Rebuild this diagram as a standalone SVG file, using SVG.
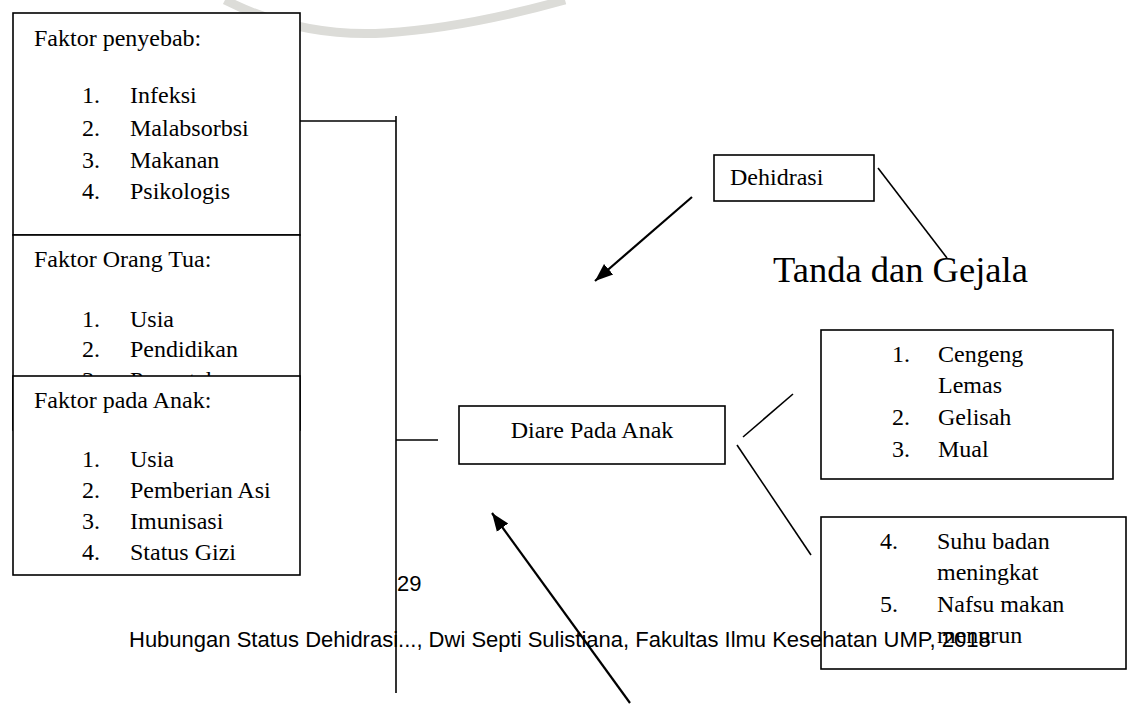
<svg xmlns="http://www.w3.org/2000/svg" width="1129" height="705" viewBox="0 0 1129 705">
<style>
.box{fill:#fff;stroke:#000;stroke-width:1.6}
.t{font-family:"Liberation Serif","Times New Roman",serif;font-size:24px;fill:#000}
.big{font-family:"Liberation Serif","Times New Roman",serif;font-size:36.5px;fill:#000}
.foot{font-family:"Liberation Sans",Arial,sans-serif;font-size:22px;fill:#000}
.ln{stroke:#000;stroke-width:1.6;fill:none}
.ar{stroke:#000;stroke-width:2.2;fill:none}
</style>
<defs>
<marker id="ah" markerUnits="userSpaceOnUse" markerWidth="20" markerHeight="16" refX="18" refY="7" orient="auto" viewBox="0 0 20 14">
<path d="M0,0 L18,7 L0,14 Z" fill="#000"/>
</marker>
<clipPath id="c2"><rect x="0" y="234" width="320" height="142"/></clipPath>
</defs>
<rect width="1129" height="705" fill="#fff"/>
<g id="watermark">
<path d="M225,0 Q300,38 385,33 Q465,28 565,0" fill="none" stroke="#dcdcd8" stroke-width="9"/>
</g>
<g id="faktor-penyebab">
<rect class="box" x="13" y="13" width="287" height="222"/>
<text class="t" x="34" y="46">Faktor penyebab:</text>
<text class="t" x="82" y="103">1.</text><text class="t" x="130" y="103">Infeksi</text>
<text class="t" x="82" y="136">2.</text><text class="t" x="130" y="136">Malabsorbsi</text>
<text class="t" x="82" y="168">3.</text><text class="t" x="130" y="168">Makanan</text>
<text class="t" x="82" y="199">4.</text><text class="t" x="130" y="199">Psikologis</text>
</g>
<g id="faktor-orang-tua">
<rect class="box" x="13" y="235" width="287" height="195"/>
<text class="t" x="34" y="267">Faktor Orang Tua:</text>
<text class="t" x="82" y="327">1.</text><text class="t" x="130" y="327">Usia</text>
<text class="t" x="82" y="357">2.</text><text class="t" x="130" y="357">Pendidikan</text>
<g clip-path="url(#c2)"><text class="t" x="82" y="388">3.</text><text class="t" x="130" y="388">Pengetahuan</text></g>
</g>
<g id="faktor-pada-anak">
<rect class="box" x="13" y="376" width="287" height="199"/>
<text class="t" x="34" y="408">Faktor pada Anak:</text>
<text class="t" x="82" y="467">1.</text><text class="t" x="130" y="467">Usia</text>
<text class="t" x="82" y="498">2.</text><text class="t" x="130" y="498">Pemberian Asi</text>
<text class="t" x="82" y="529">3.</text><text class="t" x="130" y="529">Imunisasi</text>
<text class="t" x="82" y="560">4.</text><text class="t" x="130" y="560">Status Gizi</text>
</g>
<g id="dehidrasi">
<rect class="box" x="714" y="155" width="160" height="46"/>
<text class="t" x="730" y="185">Dehidrasi</text>
</g>
<g id="tanda-gejala">
<text class="big" x="773" y="282">Tanda dan Gejala</text>
</g>
<g id="diare">
<rect class="box" x="459" y="406" width="266" height="58"/>
<text class="t" x="592" y="438" text-anchor="middle">Diare Pada Anak</text>
</g>
<g id="gejala-1">
<rect class="box" x="821" y="330" width="292" height="149"/>
<text class="t" x="892" y="362">1.</text><text class="t" x="938" y="362">Cengeng</text>
<text class="t" x="938" y="393">Lemas</text>
<text class="t" x="892" y="425">2.</text><text class="t" x="938" y="425">Gelisah</text>
<text class="t" x="892" y="457">3.</text><text class="t" x="938" y="457">Mual</text>
</g>
<g id="gejala-2">
<rect class="box" x="821" y="517" width="305" height="152"/>
<text class="t" x="880" y="549">4.</text><text class="t" x="937" y="549">Suhu badan</text>
<text class="t" x="937" y="580">meningkat</text>
<text class="t" x="880" y="612">5.</text><text class="t" x="937" y="612">Nafsu makan</text>
<text class="t" x="937" y="643">menurun</text>
</g>
<g id="connectors">
<line class="ln" x1="300" y1="121" x2="396" y2="121"/>
<line class="ln" x1="396" y1="116" x2="396" y2="693"/>
<line class="ln" x1="396" y1="440" x2="438" y2="440"/>
<line class="ln" x1="743" y1="437" x2="793" y2="394"/>
<line class="ln" x1="737" y1="445" x2="811" y2="555"/>
<line class="ln" x1="878" y1="168" x2="947" y2="258"/>
<line class="ar" x1="692" y1="197" x2="595" y2="281" marker-end="url(#ah)"/>
<line class="ar" x1="630" y1="703" x2="492" y2="513" marker-end="url(#ah)"/>
</g>
<g id="page-footer">
<text class="foot" x="397" y="591" font-size="23">29</text>
<text class="foot" x="129" y="647">Hubungan Status Dehidrasi..., Dwi Septi Sulistiana, Fakultas Ilmu Kesehatan UMP, 2018</text>
</g>
</svg>
